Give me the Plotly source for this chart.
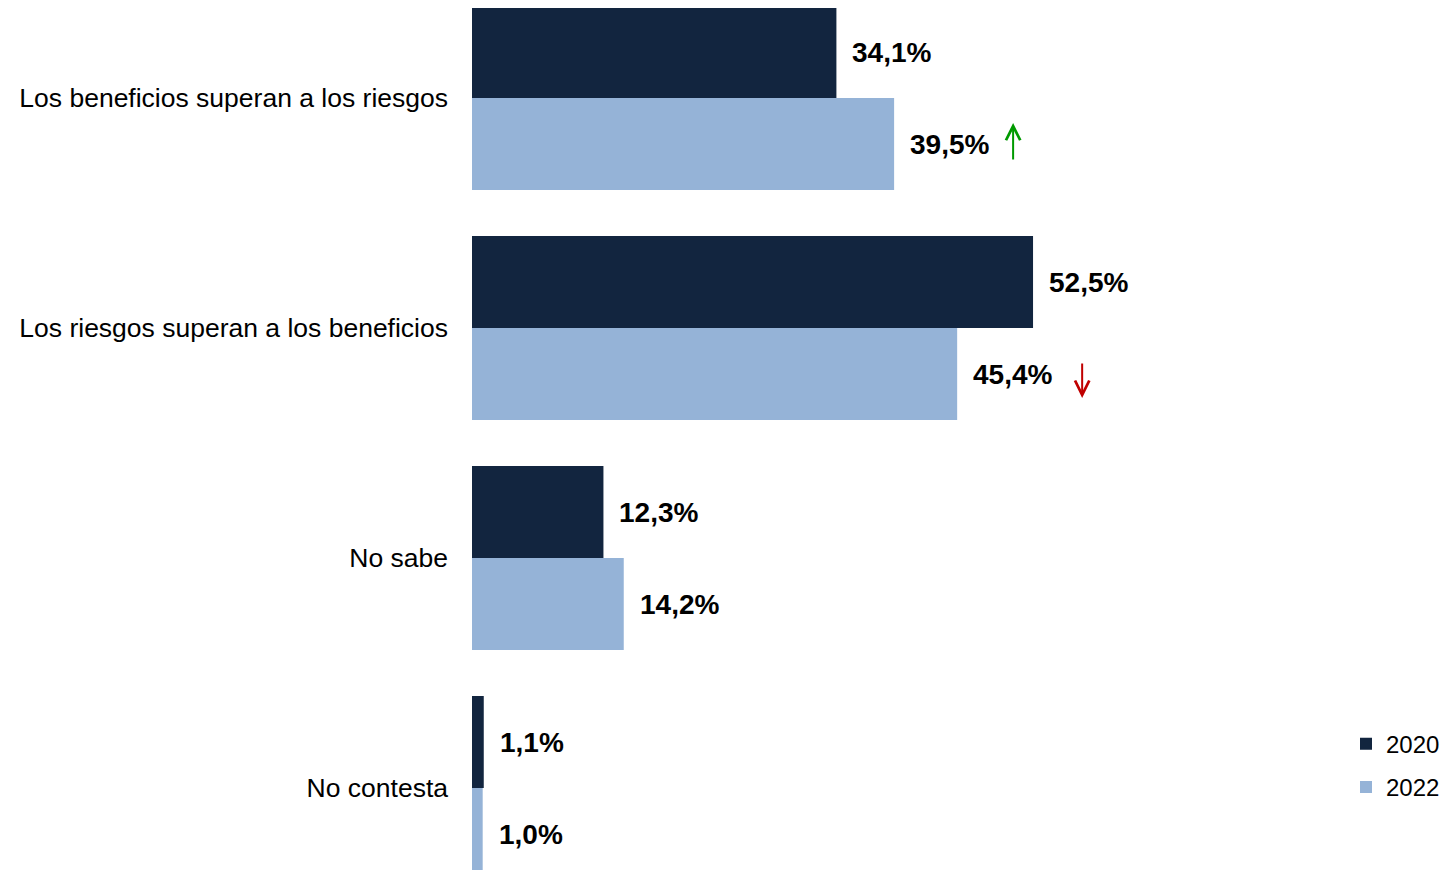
import plotly.graph_objects as go

categories = [
    "Los beneficios superan a los riesgos",
    "Los riesgos superan a los beneficios",
    "No sabe",
    "No contesta",
]
series_names = ["2020", "2022"]
values_2020 = [34.1, 52.5, 12.3, 1.1]
values_2022 = [39.5, 45.4, 14.2, 1.0]
trend_2022 = ["up", "down", None, None]

colors = ["#12253F", "#95B3D7"]

def fmt(v):
    return f"{v:.1f}".replace(".", ",") + "%"

fig = go.Figure()
for name, vals, col in zip(series_names, [values_2020, values_2022], colors):
    fig.add_trace(go.Bar(
        y=categories, x=vals, name=name, orientation="h",
        marker=dict(color=col, line=dict(width=0)),
        legendgroup=name,
    ))

annotations = []
for vals, shift in [(values_2020, 46), (values_2022, -46)]:
    for c, v in zip(categories, vals):
        annotations.append(dict(
            x=v, y=c, xref="x", yref="y", text=fmt(v), showarrow=False,
            xanchor="left", yanchor="middle", xshift=14, yshift=shift - 1,
            font=dict(family="Liberation Sans, Arial", size=28, color="#000000", weight="bold"),
        ))

for c, v, t in zip(categories, values_2022, trend_2022):
    if t == "up":
        annotations.append(dict(
            x=v, y=c, xref="x", yref="y", text="", showarrow=True,
            xshift=119, yshift=-25, ax=0, ay=38,
            arrowhead=5, arrowsize=1.4, arrowwidth=2, arrowcolor="#009A00",
        ))
    elif t == "down":
        annotations.append(dict(
            x=v, y=c, xref="x", yref="y", text="", showarrow=True,
            xshift=125, yshift=-70, ax=0, ay=-36,
            arrowhead=5, arrowsize=1.4, arrowwidth=2, arrowcolor="#C00000",
        ))

fig.update_layout(
    width=1437, height=862,
    margin=dict(l=464, r=0, t=0, b=0),
    paper_bgcolor="white", plot_bgcolor="white",
    barmode="group", bargap=0.2, bargroupgap=0,
    showlegend=True,
    legend=dict(
        x=1, xanchor="right", y=0.172, yanchor="top",
        font=dict(family="Liberation Sans, Arial", size=24, color="#000000"),
        bgcolor="rgba(0,0,0,0)", traceorder="grouped", tracegroupgap=9,
        itemwidth=30,
    ),
    annotations=annotations,
    font=dict(family="Liberation Sans, Arial"),
)
fig.update_xaxes(range=[0, 91.05], visible=False, showgrid=False, zeroline=False)
fig.update_yaxes(
    categoryorder="array", categoryarray=categories,
    range=[3.357, -0.391], showgrid=False, zeroline=False, showline=False,
    ticks="", ticklabelstandoff=23,
    tickfont=dict(family="Liberation Sans, Arial", size=26.5, color="#000000"),
)

fig.write_html("out.html")
